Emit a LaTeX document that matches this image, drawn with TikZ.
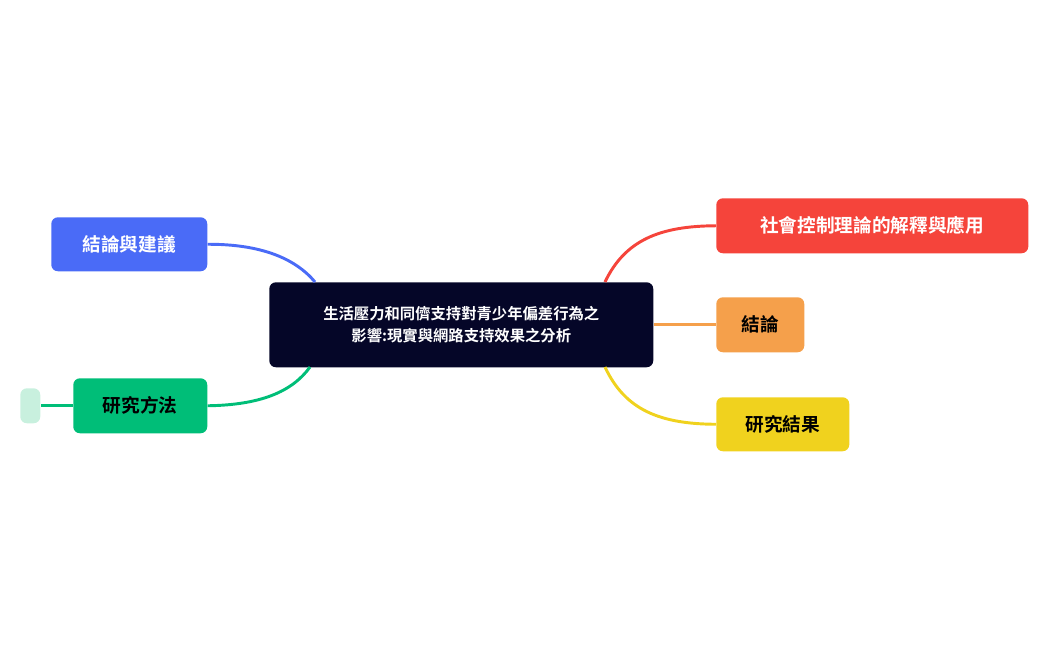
\documentclass[tikz,border=0pt]{standalone}
\usepackage{fontspec}
\newfontfamily\cjk{Noto Sans CJK TC}[BoldFont={Noto Sans CJK TC Bold}]
\definecolor{cdark}{HTML}{050628}
\definecolor{cred}{HTML}{F5443B}
\definecolor{corange}{HTML}{F5A04B}
\definecolor{cyellow}{HTML}{F0D21E}
\definecolor{cblue}{HTML}{4A6BF7}
\definecolor{cgreen}{HTML}{00BE78}
\definecolor{cpale}{HTML}{C8F0DE}
\begin{document}
\begin{tikzpicture}[x=0.75pt,y=-0.75pt,
  box/.style={rounded corners=5pt,inner sep=0pt,anchor=north west},
  lbl/.style={font=\cjk\bfseries\fontsize{14}{16}\selectfont},
  link/.style={line width=2.2pt}]
\useasboundingbox (0,0) rectangle (1048,650);
\node[box,fill=cdark,minimum width=384*0.75pt,minimum height=85*0.75pt] (c) at (269,282) {};
\node[text=white,align=center,font=\cjk\bfseries\fontsize{11.5}{17}\selectfont] at (c.center) {生活壓力和同儕支持對青少年偏差行為之\\影響:現實與網路支持效果之分析};
\node[box,fill=cred,minimum width=312*0.75pt,minimum height=55*0.75pt] (r) at (716,198) {};
\node[lbl,text=white] at (r.center) {社會控制理論的解釋與應用};
\node[box,fill=corange,minimum width=88*0.75pt,minimum height=55*0.75pt] (o) at (716,297) {};
\node[lbl] at (o.center) {結論};
\node[box,fill=cyellow,minimum width=133*0.75pt,minimum height=54*0.75pt] (y) at (716,397) {};
\node[lbl] at (y.center) {研究結果};
\node[box,fill=cblue,minimum width=156*0.75pt,minimum height=54*0.75pt] (b) at (51,217) {};
\node[lbl,text=white] at (b.center) {結論與建議};
\node[box,fill=cgreen,minimum width=134*0.75pt,minimum height=55*0.75pt] (g) at (73,378) {};
\node[lbl] at (g.center) {研究方法};
\node[box,fill=cpale,minimum width=20*0.75pt,minimum height=35*0.75pt] (p) at (20,388) {};
\coordinate (cr) at (605,282);
\coordinate (cy) at (605,367);
\coordinate (cb) at (315,282);
\coordinate (cg) at (310,367);
\draw[link,cred] (cr) .. controls (625,240) and (660,226) .. (r.west);
\draw[link,corange] (c.east) -- (o.west);
\draw[link,cyellow] (cy) .. controls (625,410) and (660,424) .. (y.west);
\draw[link,cblue] (b.east) .. controls (260,244) and (295,258) .. (cb);
\draw[link,cgreen] (g.west) -- (p.east);
\draw[link,cgreen] (g.east) .. controls (260,405) and (292,392) .. (cg);
\end{tikzpicture}
\end{document}
